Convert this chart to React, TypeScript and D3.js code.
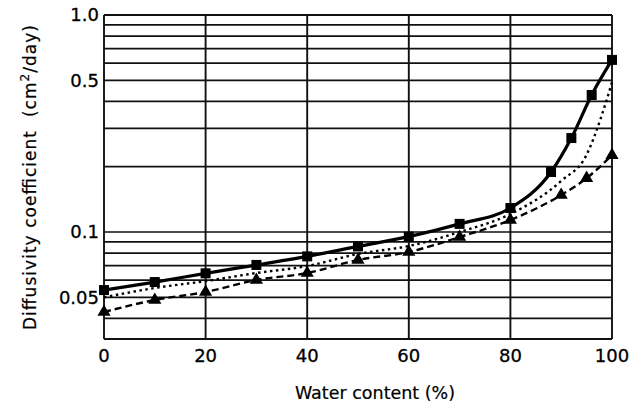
import React from "react";
import * as d3 from "d3";

const xTicks = [0, 20, 40, 60, 80, 100];
const yTickLabels = [
  { v: 1.0, t: "1.0" },
  { v: 0.5, t: "0.5" },
  { v: 0.1, t: "0.1" },
  { v: 0.05, t: "0.05" },
];
const yGrid = [0.04, 0.05, 0.06, 0.07, 0.08, 0.09, 0.1, 0.2, 0.3, 0.4, 0.5, 0.6, 0.7, 0.8, 0.9, 1.0];

const squareX = [0, 10, 20, 30, 40, 50, 60, 70, 80, 88, 92, 96, 100];
const squareY = [0.054, 0.0588, 0.0645, 0.0705, 0.0772, 0.0858, 0.0952, 0.109, 0.129, 0.189, 0.271, 0.428, 0.621];

const dottedX = [0, 10, 20, 30, 40, 50, 60, 70, 80, 90, 95, 98, 100];
const dottedY = [0.05, 0.0552, 0.0594, 0.0647, 0.0697, 0.0792, 0.0862, 0.1, 0.121, 0.172, 0.227, 0.346, 0.49];

const triX = [0, 10, 20, 30, 40, 50, 60, 70, 80, 90, 95, 100];
const triY = [0.0428, 0.0486, 0.0529, 0.0601, 0.0647, 0.0743, 0.0809, 0.0948, 0.1136, 0.148, 0.177, 0.226];

const W = 631;
const H = 410;
const L = 104, R = 612, T = 15, B = 339;

export default function App() {
  const x = d3.scaleLinear().domain([0, 100]).range([L, R]);
  const yMin = Math.pow(10, -(B - T) / 217);
  const y = d3.scaleLog().domain([yMin, 1]).range([B, T]);

  const line = d3
    .line<[number, number]>()
    .x((d) => x(d[0]))
    .y((d) => y(d[1]))
    .curve(d3.curveMonotoneX);

  const sq = squareX.map((v, i) => [v, squareY[i]] as [number, number]);
  const dt = dottedX.map((v, i) => [v, dottedY[i]] as [number, number]);
  const tr = triX.map((v, i) => [v, triY[i]] as [number, number]);

  const font = "'DejaVu Sans', sans-serif";
  const tri = d3.symbol().type(d3.symbolTriangle).size(75)() as string;

  return (
    <svg width={W} height={H} style={{ position: "absolute", left: 0, top: 0, background: "#fff" }}>
      <rect x={0} y={0} width={W} height={H} fill="#fff" />
      {yGrid.map((v) => (
        <line key={"h" + v} x1={L} x2={R} y1={y(v)} y2={y(v)} stroke="#111" strokeWidth={1.7} />
      ))}
      {xTicks.map((v) => (
        <line key={"v" + v} x1={x(v)} x2={x(v)} y1={T} y2={B} stroke="#111" strokeWidth={1.9} />
      ))}
      <line x1={L} x2={R} y1={B} y2={B} stroke="#111" strokeWidth={2.2} />
      <line x1={L} x2={R} y1={T} y2={T} stroke="#111" strokeWidth={2.2} />

      <path d={line(tr) || ""} fill="none" stroke="#000" strokeWidth={2.4} strokeDasharray="7,4" />
      <path d={line(dt) || ""} fill="none" stroke="#000" strokeWidth={2.4} strokeDasharray="2.5,3.5" />
      <path d={line(sq) || ""} fill="none" stroke="#000" strokeWidth={3.2} />

      {sq.map((d, i) => (
        <rect key={"s" + i} x={x(d[0]) - 5} y={y(d[1]) - 5} width={10} height={10} fill="#000" />
      ))}
      {tr.map((d, i) => (
        <path key={"t" + i} d={tri} transform={`translate(${x(d[0])},${y(d[1])})`} fill="#000" />
      ))}

      {yTickLabels.map((d) => (
        <text key={"yl" + d.t} x={L - 5} y={y(d.v)} dy="0.36em" textAnchor="end" fontFamily={font} fontSize={18} fill="#000" stroke="#000" strokeWidth={0.3}>
          {d.t}
        </text>
      ))}
      {xTicks.map((v) => (
        <text key={"xl" + v} x={x(v)} y={362} textAnchor="middle" fontFamily={font} fontSize={18} fill="#000" stroke="#000" strokeWidth={0.3}>
          {v}
        </text>
      ))}
      <text x={375} y={399} textAnchor="middle" fontFamily={font} fontSize={17.5} fill="#000" stroke="#000" strokeWidth={0.2}>
        Water content (%)
      </text>
      <text
        transform={`translate(36,330) rotate(-90)`}
        textAnchor="start"
        textLength={305}
        lengthAdjust="spacing"
        fontFamily={font}
        fontSize={17}
        fill="#000"
        stroke="#000"
        strokeWidth={0.2}
        xmlSpace="preserve"
      >
        Diffusivity coefficient  (cm
        <tspan dy={-7} fontSize={12}>2</tspan>
        <tspan dy={7}>/day)</tspan>
      </text>
    </svg>
  );
}
